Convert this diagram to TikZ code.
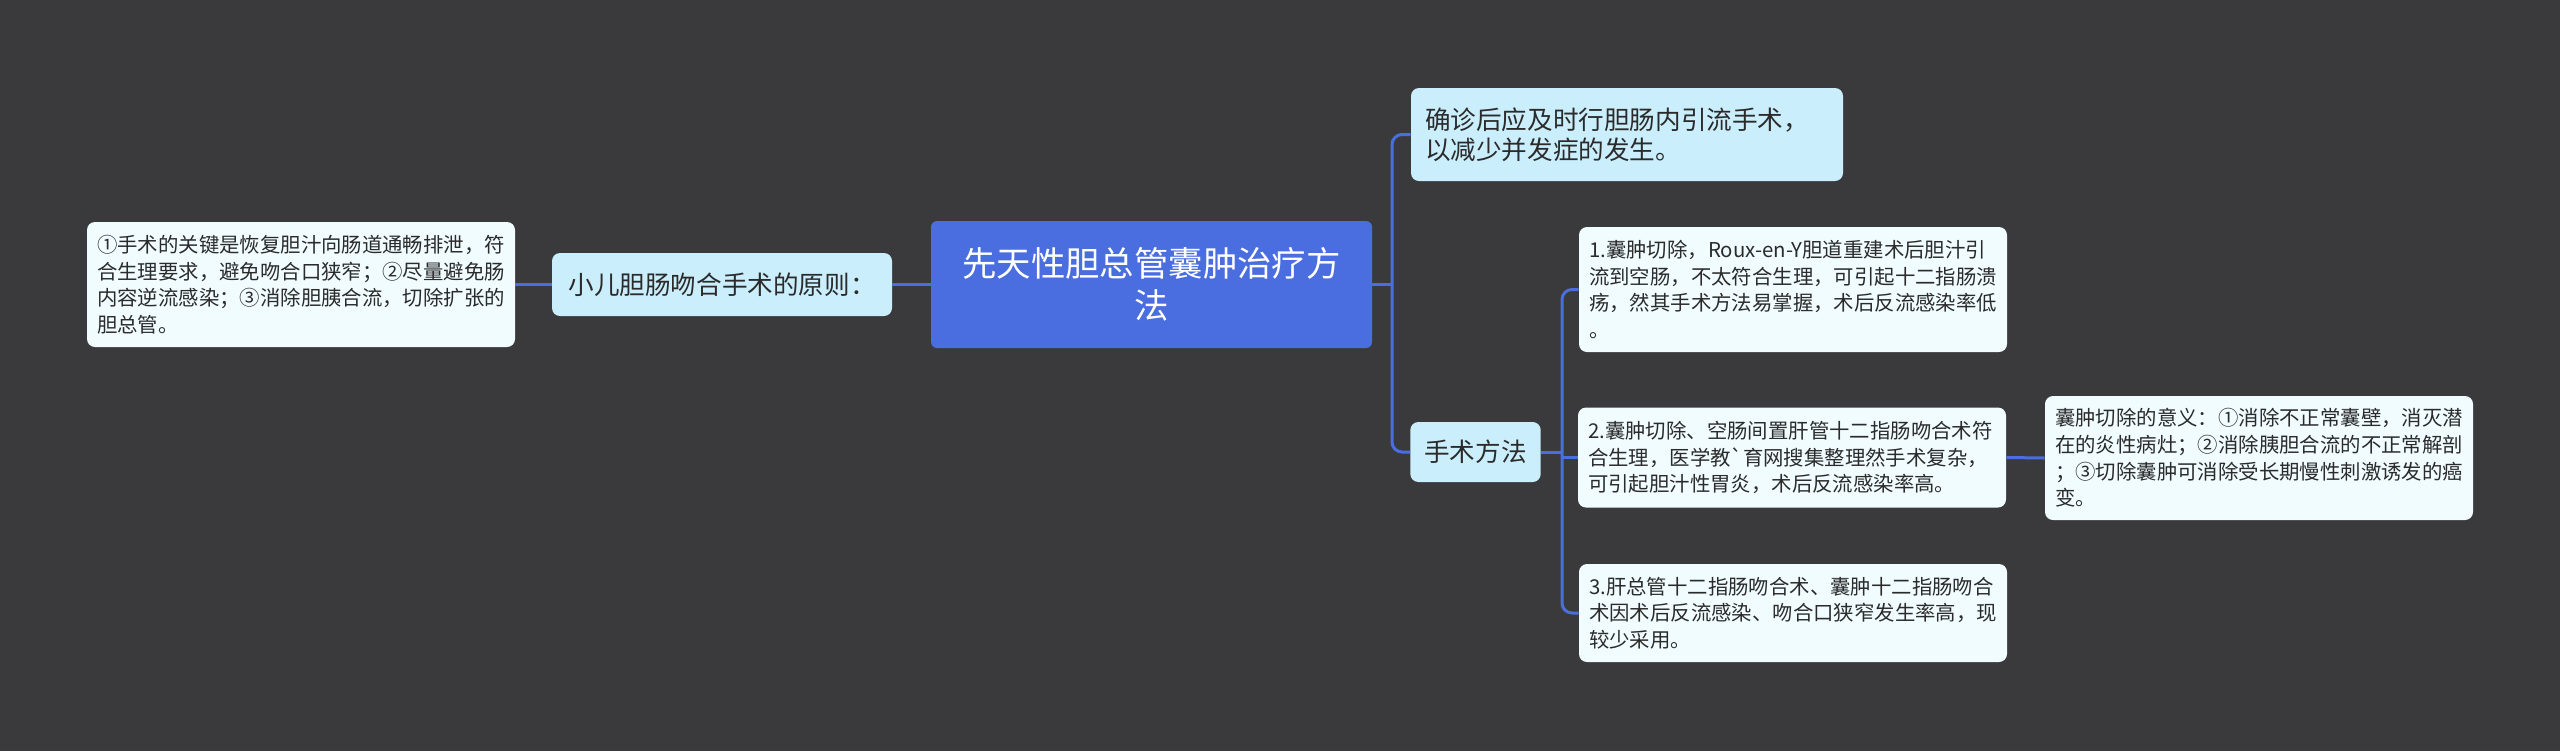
\documentclass[tikz,border=0pt]{standalone}
\usepackage{fontspec}
\setmainfont{Noto Sans CJK SC}[Ligatures=TeXOff]
\usetikzlibrary{positioning}
\definecolor{board}{HTML}{3A393B}
\definecolor{royal}{HTML}{4A6EE0}
\definecolor{sky}{HTML}{CAEEFC}
\definecolor{frost}{HTML}{F0FCFF}
\definecolor{ink}{HTML}{2B2B2B}
\tikzset{
  hub/.style={rounded corners=3pt,fill=royal,text=white,align=center,inner sep=0pt,text width=200pt,minimum width=220.5pt,minimum height=63.5pt,font=\fontsize{17.2pt}{21pt}\selectfont},
  topic/.style={rounded corners=4pt,fill=sky,text=ink,align=left,inner xsep=7pt,inner ysep=0pt,minimum height=#1,font=\fontsize{12.8pt}{15pt}\selectfont},
  leaf/.style={rounded corners=4pt,fill=frost,text=ink,align=left,inner xsep=5pt,inner ysep=0pt,text width=204pt,minimum height=#1,font=\fontsize{10.2pt}{13.3pt}\selectfont},
  link/.style={royal,line width=1.5pt,rounded corners=5pt},
}

\begin{document}
\begin{tikzpicture}[x=0.5pt,y=-0.5pt]
\fill[board] (0,0) rectangle (2560,751);
\useasboundingbox (0,0) rectangle (2560,751);
% centre and left side
\node[hub] (root) at (1151.5,284.5) {先天性胆总管囊肿治疗方\\法};
\node[topic=31.5pt,minimum width=170pt] (rule) at (722,284.5) {小儿胆肠吻合手术的原则：};
\node[leaf=62.5pt] (ruletxt) at (301,284.5)
  {①手术的关键是恢复胆汁向肠道通畅排泄，符\\合生理要求，避免吻合口狭窄；②尽量避免肠\\内容逆流感染；③消除胆胰合流，切除扩张的\\胆总管。};
% right side
\node[topic=46.5pt,text width=202pt] (early) at (1627,134.5)
  {确诊后应及时行胆肠内引流手术，\\以减少并发症的发生。};
\node[topic=30pt] (method) at (1475.5,452) {手术方法};
\node[leaf=62.5pt] (m1) at (1793,289.5)
  {1.囊肿切除，Roux-en-Y胆道重建术后胆汁引\\流到空肠，不太符合生理，可引起十二指肠溃\\疡，然其手术方法易掌握，术后反流感染率低\\。};
\node[leaf=50pt] (m2) at (1792,457.5)
  {2.囊肿切除、空肠间置肝管十二指肠吻合术符\\合生理，医学教`育网搜集整理然手术复杂，\\可引起胆汁性胃炎，术后反流感染率高。};
\node[leaf=49pt] (m3) at (1793,613)
  {3.肝总管十二指肠吻合术、囊肿十二指肠吻合\\术因术后反流感染、吻合口狭窄发生率高，现\\较少采用。};
\node[leaf=62pt] (why) at (2259,458)
  {囊肿切除的意义：①消除不正常囊壁，消灭潜\\在的炎性病灶；②消除胰胆合流的不正常解剖\\；③切除囊肿可消除受长期慢性刺激诱发的癌\\变。};
% connectors
\coordinate (j1) at (1392,284.5);
\coordinate (j2) at (1562,452);
\draw[link] (root.west) -- (rule.east);
\draw[link] (rule.west) -- (ruletxt.east);
\draw[link] (root.east) -- (j1);
\draw[link] (early.west) -| (j1) |- (method.west);
\draw[link] (method.east) -- (j2);
\draw[link] (m1.west) -| (j2) |- (m3.west);
\draw[link] (j2 |- m2.west) -- (m2.west);
\draw[link] (m2.east) -- (why.west);
\end{tikzpicture}
\end{document}
